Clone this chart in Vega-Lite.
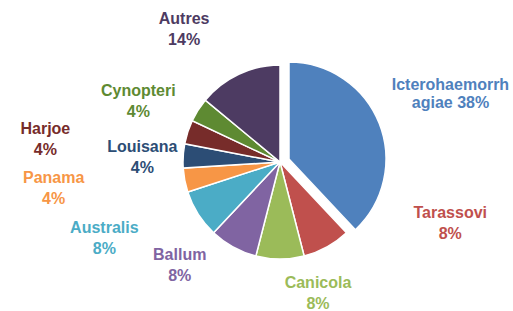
{
  "$schema": "https://vega.github.io/schema/vega-lite/v6.json",
  "width": 466,
  "height": 298,
  "autosize": {"type": "none"},
  "padding": {"left": 47, "top": 13, "right": 0, "bottom": 0},
  "background": "white",
  "view": {"stroke": null},
  "config": {"text": {"font": "Liberation Sans", "fontSize": 16, "fontWeight": "bold", "lineHeight": 21, "align": "center", "baseline": "middle"}},
  "data": {"values": [
    {"name": "Icterohaemorrhagiae", "value": 38, "order": 1, "label": ["Icterohaemorrh", "agiae 38%"]},
    {"name": "Tarassovi", "value": 8, "order": 2, "label": ["Tarassovi", "8%"]},
    {"name": "Canicola", "value": 8, "order": 3, "label": ["Canicola", "8%"]},
    {"name": "Ballum", "value": 8, "order": 4, "label": ["Ballum", "8%"]},
    {"name": "Australis", "value": 8, "order": 5, "label": ["Australis", "8%"]},
    {"name": "Panama", "value": 4, "order": 6, "label": ["Panama", "4%"]},
    {"name": "Louisana", "value": 4, "order": 7, "label": ["Louisana", "4%"]},
    {"name": "Harjoe", "value": 4, "order": 8, "label": ["Harjoe", "4%"]},
    {"name": "Cynopteri", "value": 4, "order": 9, "label": ["Cynopteri", "4%"]},
    {"name": "Autres", "value": 14, "order": 10, "label": ["Autres", "14%"]}
  ]},
  "transform": [
    {"window": [{"op": "sum", "field": "value", "as": "cum"}], "sort": [{"field": "order", "order": "ascending"}], "frame": [null, 0]},
    {"calculate": "datum.cum - datum.value", "as": "start"},
    {"calculate": "datum.cum - datum.value / 2", "as": "mid"}
  ],
  "encoding": {
    "color": {"field": "name", "type": "nominal", "legend": null,
      "scale": {"domain": ["Icterohaemorrhagiae", "Tarassovi", "Canicola", "Ballum", "Australis", "Panama", "Louisana", "Harjoe", "Cynopteri", "Autres"],
                "range": ["#4F81BD", "#C0504D", "#9BBB59", "#8064A2", "#4BACC6", "#F79646", "#2C4D75", "#772C2A", "#5E8A32", "#4D3B62"]}}
  },
  "layer": [
    {
      "transform": [{"filter": "datum.name !== 'Icterohaemorrhagiae'"}],
      "mark": {"type": "arc", "radius": 97, "stroke": "white", "strokeWidth": 1.5},
      "encoding": {
        "theta": {"field": "start", "type": "quantitative", "scale": {"domain": [0, 100]}},
        "theta2": {"field": "cum"}
      }
    },
    {
      "transform": [{"filter": "datum.name === 'Icterohaemorrhagiae'"}],
      "mark": {"type": "arc", "radius": 97, "stroke": "white", "strokeWidth": 1.5, "xOffset": 9, "yOffset": -3},
      "encoding": {
        "theta": {"field": "start", "type": "quantitative", "scale": {"domain": [0, 100]}},
        "theta2": {"field": "cum"}
      }
    },
    {"transform": [{"filter": "datum.name === 'Icterohaemorrhagiae'"}], "mark": {"type": "text", "radius": 150, "dx": 31, "dy": -22, "lineHeight": 18},
     "encoding": {"theta": {"field": "mid", "type": "quantitative", "scale": {"domain": [0, 100]}}, "text": {"field": "label"}}},
    {"transform": [{"filter": "datum.name === 'Tarassovi'"}], "mark": {"type": "text", "radius": 150, "dx": 98, "dy": -80},
     "encoding": {"theta": {"field": "mid", "type": "quantitative", "scale": {"domain": [0, 100]}}, "text": {"field": "label"}}},
    {"transform": [{"filter": "datum.name === 'Canicola'"}], "mark": {"type": "text", "radius": 150, "dx": 38, "dy": -29},
     "encoding": {"theta": {"field": "mid", "type": "quantitative", "scale": {"domain": [0, 100]}}, "text": {"field": "label"}}},
    {"transform": [{"filter": "datum.name === 'Ballum'"}], "mark": {"type": "text", "radius": 150, "dx": -28, "dy": -38},
     "encoding": {"theta": {"field": "mid", "type": "quantitative", "scale": {"domain": [0, 100]}}, "text": {"field": "label"}}},
    {"transform": [{"filter": "datum.name === 'Australis'"}], "mark": {"type": "text", "radius": 150, "dx": -49, "dy": -14},
     "encoding": {"theta": {"field": "mid", "type": "quantitative", "scale": {"domain": [0, 100]}}, "text": {"field": "label"}}},
    {"transform": [{"filter": "datum.name === 'Panama'"}], "mark": {"type": "text", "radius": 150, "dx": -79, "dy": -12},
     "encoding": {"theta": {"field": "mid", "type": "quantitative", "scale": {"domain": [0, 100]}}, "text": {"field": "label"}}},
    {"transform": [{"filter": "datum.name === 'Louisana'"}], "mark": {"type": "text", "radius": 150, "dx": 12, "dy": -6},
     "encoding": {"theta": {"field": "mid", "type": "quantitative", "scale": {"domain": [0, 100]}}, "text": {"field": "label"}}},
    {"transform": [{"filter": "datum.name === 'Harjoe'"}], "mark": {"type": "text", "radius": 150, "dx": -92, "dy": 13},
     "encoding": {"theta": {"field": "mid", "type": "quantitative", "scale": {"domain": [0, 100]}}, "text": {"field": "label"}}},
    {"transform": [{"filter": "datum.name === 'Cynopteri'"}], "mark": {"type": "text", "radius": 150, "dx": -15, "dy": 9},
     "encoding": {"theta": {"field": "mid", "type": "quantitative", "scale": {"domain": [0, 100]}}, "text": {"field": "label"}}},
    {"transform": [{"filter": "datum.name === 'Autres'"}], "mark": {"type": "text", "radius": 150, "dx": -32, "dy": -7},
     "encoding": {"theta": {"field": "mid", "type": "quantitative", "scale": {"domain": [0, 100]}}, "text": {"field": "label"}}}
  ]
}
